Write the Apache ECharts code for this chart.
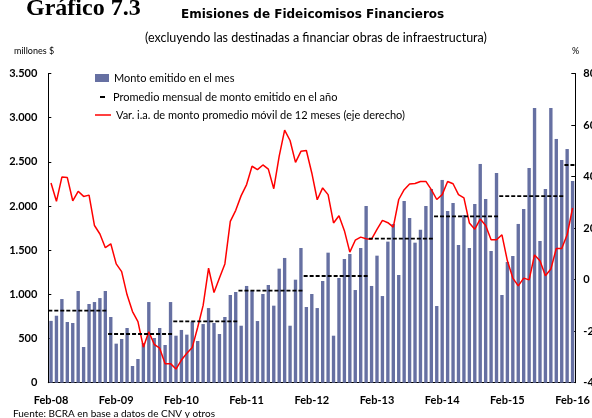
<!DOCTYPE html>
<html style="height: 100%">
<head>
    <meta charset="utf-8">
    <script src="https://cdn.jsdelivr.net/npm/echarts@6/dist/echarts.min.js"></script>
</head>
<body style="height: 100%;margin: 0">
<div id="chart1" style="width: 592px; height: 418px;"></div>
<script type="text/javascript">
// meses: Feb-08 .. Feb-16
var monthNames = ['Ene', 'Feb', 'Mar', 'Abr', 'May', 'Jun', 'Jul', 'Ago', 'Sep', 'Oct', 'Nov', 'Dic'];
var months = [];
for (var k = 0; k < 97; k++) {
    var yy = 8 + Math.floor((1 + k) / 12);
    months.push(monthNames[(1 + k) % 12] + '-' + String(yy).padStart(2, '0'));
}

// monto emitido en el mes (millones $)
var monto2008 = [700, 758, 947, 687, 676, 1038, 404, 891, 913, 958, 1038];
var monto2009 = [744, 442, 495, 619, 189, 268, 450, 913, 506, 619, 427, 913];
var monto2010 = [532, 597, 544, 691, 472, 664, 845, 676, 551, 744, 993, 1027];
var monto2011 = [645, 1095, 1042, 698, 1004, 1106, 872, 1291, 1412, 645, 1166, 1525];
var monto2012 = [857, 1004, 845, 1151, 1472, 532, 1185, 1400, 1457, 1049, 1525, 2000];
var monto2013 = [1095, 1438, 981, 1597, 1797, 1219, 2057, 1864, 1585, 1732, 2000, 2193];
var monto2014 = [868, 2295, 1944, 2034, 1559, 1898, 1525, 2023, 2476, 2080, 1491, 2374];
var monto2015 = [993, 1366, 1434, 1797, 1966, 2430, 3110, 1604, 2193, 3110, 2759, 2521];
var monto2016 = [2645, 2283];
var monto = [].concat(monto2008, monto2009, monto2010, monto2011, monto2012,
    monto2013, monto2014, monto2015, monto2016);

// promedio mensual por año
var avgYears = ['08', '09', '10', '11', '12', '13', '14', '15', '16'];
var avgValues = [815, 551, 695, 1042, 1208, 1630, 1883, 2113, 2464];

// var. i.a. promedio móvil 12 meses (%)
var varIA = [
    37.5, 30.4, 39.8, 39.6, 30.6, 34.3, 32.3, 32.8, 21.0, 17.7, 12.4, 13.9,
    6.1, 3.1, -5.9, -12.4, -16.3, -26.2, -20.2, -25.1, -26.6, -32.6, -32.6, -34.7,
    -31.2, -28.6, -26.3, -18.5, -10.0, 4.5, -5.0, 0.6, 6.1, 22.6, 26.9, 32.6,
    36.9, 44.0, 42.7, 44.5, 42.9, 35.3, 47.9, 58.0, 54.0, 45.5, 49.8, 50.1,
    41.4, 31.0, 35.6, 33.0, 22.0, 24.8, 19.0, 10.7, 15.3, 16.5, 15.9, 15.7,
    19.5, 23.0, 22.1, 20.4, 31.1, 34.9, 37.1, 37.3, 38.1, 38.1, 34.9, 31.1,
    33.0, 38.1, 37.2, 33.0, 31.7, 22.0, 19.6, 23.5, 21.0, 15.5, 15.5, 17.4,
    7.3, 0.6, -2.4, 0.6, -0.1, 9.6, 7.3, 1.5, 4.1, 12.1, 12.1, 17.4,
    27.8
];

var leftTicks = [0, 3500, 500];
var rightTicks = [-40, 80, 20];

var FONT = 'Lato';
var nameBar = 'Monto emitido en el mes';
var nameAvg = 'Promedio mensual de monto emitido en el año';
var nameVar = 'Var. i.a. de monto promedio móvil de 12 meses (eje derecho)';

function miles(v) {
    if (v >= 1000) return Math.floor(v / 1000) + '.' + String(v % 1000).padStart(3, '0');
    return String(v);
}

// series de promedio, una por año
var avgSeries = avgYears.map(function (yr, k) {
    var idx = [];
    months.forEach(function (m, i) { if (m.slice(-2) === yr) idx.push(i); });
    return {
        name: nameAvg,
        type: 'line',
        xAxisIndex: 1,
        yAxisIndex: 0,
        symbol: 'none',
        silent: true,
        z: 4,
        lineStyle: {color: '#000', width: 1.8, type: [4, 2]},
        itemStyle: {color: '#000'},
        data: [[idx[0], avgValues[k]], [idx[idx.length - 1] + 1, avgValues[k]]]
    };
});

var myChart = echarts.init(document.getElementById('chart1'));
var option = {
    animation: false,
    textStyle: {fontFamily: FONT},
    graphic: [
        {type: 'text', left: 26, top: -3, style: {text: 'Gráfico 7.3', font: 'bold 24px "Liberation Serif"', fill: '#000'}},
        {type: 'text', left: 181, top: 9, style: {text: 'Emisiones de Fideicomisos Financieros', font: 'bold 12px "DejaVu Sans"', fill: '#000'}},
        {type: 'text', left: 145, top: 31, style: {text: '(excluyendo las destinadas a financiar obras de infraestructura)', font: '12.5px Lato', fill: '#000'}},
        {type: 'text', left: 14, top: 47, style: {text: 'millones $', font: '9px Lato', fill: '#000'}},
        {type: 'text', left: 572, top: 47, style: {text: '%', font: '9px Lato', fill: '#000'}},
        {type: 'text', left: 13, top: 409, style: {text: 'Fuente: BCRA en base a datos de CNV y otros', font: '10px Lato', fill: '#000'}}
    ],
    legend: [
        {data: [nameBar], left: 95, top: 72.5, padding: 0, icon: 'rect', itemWidth: 14, itemHeight: 8,
            textStyle: {fontSize: 11, color: '#000', fontFamily: FONT}},
        {data: [nameAvg], left: 100, top: 91.5, padding: 0, icon: 'rect', itemWidth: 5, itemHeight: 2,
            textStyle: {fontSize: 11, color: '#000', fontFamily: FONT, padding: [0, 0, 0, 3]}},
        {data: [nameVar], left: 95, top: 109.5, padding: 0, icon: 'rect', itemWidth: 16, itemHeight: 1.5,
            textStyle: {fontSize: 11, color: '#000', fontFamily: FONT}}
    ],
    grid: {left: 48.3, right: 16.7, top: 73.5, bottom: 35.3, containLabel: false, outerBoundsMode: 'none'},
    xAxis: [
        {
            type: 'category',
            data: months,
            boundaryGap: true,
            axisLine: {lineStyle: {color: '#000', width: 1}},
            axisTick: {inside: true, length: 3, lineStyle: {color: '#555'},
                interval: function (i) { return i % 12 === 0; }},
            axisLabel: {interval: function (i) { return i % 12 === 0; }, margin: 12,
                fontSize: 11, fontWeight: 'bold', color: '#000', fontFamily: FONT}
        },
        {type: 'value', min: 0, max: months.length, show: false}
    ],
    yAxis: [
        {
            type: 'value', min: leftTicks[0], max: leftTicks[1], interval: leftTicks[2],
            splitLine: {show: false},
            axisLine: {show: true, lineStyle: {color: '#000'}},
            axisTick: {show: true, inside: true, length: 3, lineStyle: {color: '#000'}},
            axisLabel: {margin: 11, fontSize: 11, fontWeight: 'bold', color: '#000', fontFamily: FONT,
                formatter: miles}
        },
        {
            type: 'value', min: rightTicks[0], max: rightTicks[1], interval: rightTicks[2],
            position: 'right',
            splitLine: {show: false},
            axisLine: {show: true, lineStyle: {color: '#000'}},
            axisTick: {show: true, inside: true, length: 4, lineStyle: {color: '#000'}},
            axisLabel: {margin: 8, fontSize: 11, fontWeight: 'bold', color: '#000', fontFamily: FONT}
        }
    ],
    series: [
        {
            name: nameBar,
            type: 'bar',
            data: monto,
            barCategoryGap: '38%',
            itemStyle: {color: '#6670a2'},
            z: 2
        },
        {
            name: nameVar,
            type: 'line',
            yAxisIndex: 1,
            data: varIA,
            symbol: 'none',
            z: 3,
            lineStyle: {color: '#ff0000', width: 1.5},
            itemStyle: {color: '#ff0000'}
        }
    ].concat(avgSeries)
};
myChart.setOption(option);
</script>
</body>
</html>
